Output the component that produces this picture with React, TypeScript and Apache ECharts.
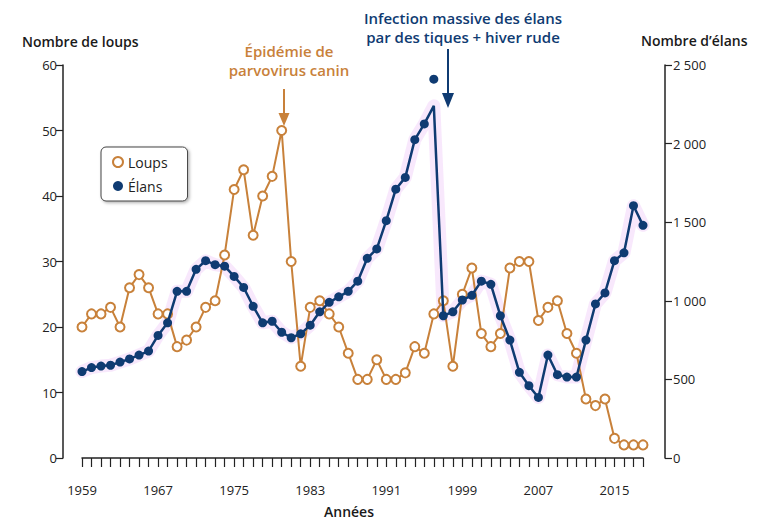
import React, { useEffect, useRef } from "react";
import * as echarts from "echarts";

const years: string[] = Array.from({ length: 60 }, (_, i) => String(1959 + i));

const wolves: number[] = [
  20, 22, 22, 23, 20, 26, 28, 26, 22, 22,
  17, 18, 20, 23, 24, 31, 41, 44, 34, 40,
  43, 50, 30, 14, 23, 24, 22, 20, 16, 12,
  12, 15, 12, 12, 13, 17, 16, 22, 24, 14,
  25, 29, 19, 17, 19, 29, 30, 30, 21, 23,
  24, 19, 16, 9, 8, 9, 3, 2, 2, 2,
];

const moose: number[] = [
  550, 575, 585, 590, 610, 630, 655, 680, 780, 860,
  1060, 1060, 1200, 1255, 1230, 1220, 1155, 1085, 965, 860,
  870, 800, 765, 790, 845, 930, 990, 1025, 1060, 1125,
  1270, 1330, 1510, 1710, 1785, 2025, 2125, 2240, 905, 930,
  1005, 1035, 1125, 1105, 905, 750, 545, 460, 385, 655,
  530, 515, 515, 750, 980, 1050, 1255, 1305, 1605, 1480,
];

// the 1996 moose dot is drawn apart from the line's peak in the source
const mooseDotYear = "1996";
const mooseDotValue = 2410;

const wolfTicks = [0, 10, 20, 30, 40, 50, 60];
const mooseTicks = [0, 500, 1000, 1500, 2000, 2500];

const WOLF = "#c8813a";
const MOOSE = "#0f3b72";
const FONT = "'Open Sans', 'Noto Sans', sans-serif";

export default function App() {
  const ref = useRef<HTMLDivElement>(null);
  useEffect(() => {
    if (!ref.current) return;
    const chart = echarts.init(ref.current, undefined, { renderer: "svg" });
    const fmtThousands = (v: number) =>
      v >= 1000 ? `${Math.floor(v / 1000)} ${String(v % 1000).padStart(3, "0")}` : String(v);
    const note = (text: string, x: number, y: number, color: string) => ({
      type: "text",
      x,
      y,
      style: {
        text,
        fontSize: 15,
        fontWeight: 600,
        lineHeight: 17,
        fill: color,
        fontFamily: FONT,
        align: "center",
        verticalAlign: "middle",
      },
    });
    chart.setOption({
      animation: false,
      backgroundColor: "#ffffff",
      textStyle: { fontFamily: FONT },
      grid: { left: 82, right: 115, top: 65, bottom: 62 },
      legend: {
        left: 101,
        top: 147,
        orient: "vertical",
        padding: [8, 20, 8, 11],
        itemGap: 10,
        itemWidth: 10,
        itemHeight: 10,
        itemTextGap: 6,
        backgroundColor: "#ffffff",
        borderColor: "#444",
        borderWidth: 1,
        borderRadius: 5,
        shadowColor: "rgba(0,0,0,0.3)",
        shadowBlur: 3,
        shadowOffsetX: 1.5,
        shadowOffsetY: 1.5,
        textStyle: { fontSize: 14, color: "#222", fontFamily: FONT },
        data: [
          { name: "Loups", icon: "circle", itemStyle: { color: "#fff", borderColor: WOLF, borderWidth: 2 } },
          { name: "Élans", icon: "circle", itemStyle: { color: MOOSE } },
        ],
      },
      xAxis: {
        type: "category",
        data: years,
        boundaryGap: false,
        offset: 13,
        axisLine: { show: true, lineStyle: { color: "#222", width: 1.5 } },
        axisTick: { show: true, interval: 0, length: 9, lineStyle: { color: "#222", width: 1.2 } },
        axisLabel: { interval: 7, margin: 12, fontSize: 13, color: "#222", fontFamily: FONT },
        splitLine: { show: false },
      },
      yAxis: [
        {
          type: "value",
          min: wolfTicks[0],
          max: wolfTicks[wolfTicks.length - 1],
          interval: 10,
          position: "left",
          offset: 19,
          axisLine: { show: true, lineStyle: { color: "#222", width: 1.5 } },
          axisTick: { show: true, length: 7, lineStyle: { color: "#222", width: 1.2 } },
          axisLabel: { margin: 6, fontSize: 13, color: "#222", fontFamily: FONT },
          splitLine: { show: false },
        },
        {
          type: "value",
          min: mooseTicks[0],
          max: mooseTicks[mooseTicks.length - 1],
          interval: 500,
          position: "right",
          offset: 22,
          axisLine: { show: true, lineStyle: { color: "#222", width: 1.5 } },
          axisTick: { show: true, length: 7, lineStyle: { color: "#222", width: 1.2 } },
          axisLabel: { margin: 8, fontSize: 13, color: "#222", fontFamily: FONT, formatter: fmtThousands },
          splitLine: { show: false },
        },
      ],
      series: [
        {
          name: "halo",
          type: "line",
          yAxisIndex: 1,
          data: moose,
          symbol: "none",
          silent: true,
          lineStyle: { color: "rgba(232,180,245,0.3)", width: 13, cap: "round", join: "round" },
          z: 1,
        },
        {
          name: "Loups",
          type: "line",
          yAxisIndex: 0,
          data: wolves,
          symbol: "circle",
          symbolSize: 9,
          showAllSymbol: true,
          lineStyle: { color: WOLF, width: 2 },
          itemStyle: { color: "#ffffff", borderColor: WOLF, borderWidth: 2 },
          z: 2,
        },
        {
          name: "Élans",
          type: "line",
          yAxisIndex: 1,
          data: moose.map((v, i) =>
            years[i] === mooseDotYear ? { value: v, symbol: "none" } : v
          ),
          symbol: "circle",
          symbolSize: 9,
          showAllSymbol: true,
          lineStyle: { color: MOOSE, width: 2.5 },
          itemStyle: { color: MOOSE },
          z: 3,
        },
        {
          name: "ÉlansPoint",
          type: "scatter",
          yAxisIndex: 1,
          data: [[mooseDotYear, mooseDotValue]],
          symbol: "circle",
          symbolSize: 9,
          itemStyle: { color: MOOSE, opacity: 1 },
          z: 3,
        },
      ],
      graphic: [
        {
          type: "text",
          left: 22,
          top: 34,
          style: { text: "Nombre de loups", fontSize: 14, fontWeight: 600, fill: "#1a1a1a", fontFamily: FONT },
        },
        {
          type: "text",
          left: 641,
          top: 33,
          style: { text: "Nombre d’élans", fontSize: 14, fontWeight: 600, fill: "#1a1a1a", fontFamily: FONT },
        },
        {
          type: "text",
          x: 349,
          y: 511,
          style: {
            text: "Années",
            fontSize: 14,
            fontWeight: 600,
            fill: "#1a1a1a",
            fontFamily: FONT,
            align: "center",
            verticalAlign: "middle",
          },
        },
        note("Épidémie de", 289, 51, WOLF),
        note("parvovirus canin", 289, 70, WOLF),
        {
          type: "line",
          shape: { x1: 284, y1: 89, x2: 284, y2: 116 },
          style: { stroke: WOLF, lineWidth: 2 },
        },
        {
          type: "polygon",
          shape: { points: [[278.5, 113], [289.5, 113], [284, 126]] },
          style: { fill: WOLF },
        },
        note("Infection massive des élans", 463, 18, MOOSE),
        note("par des tiques + hiver rude", 463, 37, MOOSE),
        {
          type: "line",
          shape: { x1: 448, y1: 49, x2: 448, y2: 97 },
          style: { stroke: MOOSE, lineWidth: 2 },
        },
        {
          type: "polygon",
          shape: { points: [[442, 93], [454, 93], [448, 108]] },
          style: { fill: MOOSE },
        },
      ],
    });
    return () => chart.dispose();
  }, []);
  return (
    <div
      ref={ref}
      style={{ position: "absolute", left: 0, top: 0, width: 758, height: 520 }}
    />
  );
}
